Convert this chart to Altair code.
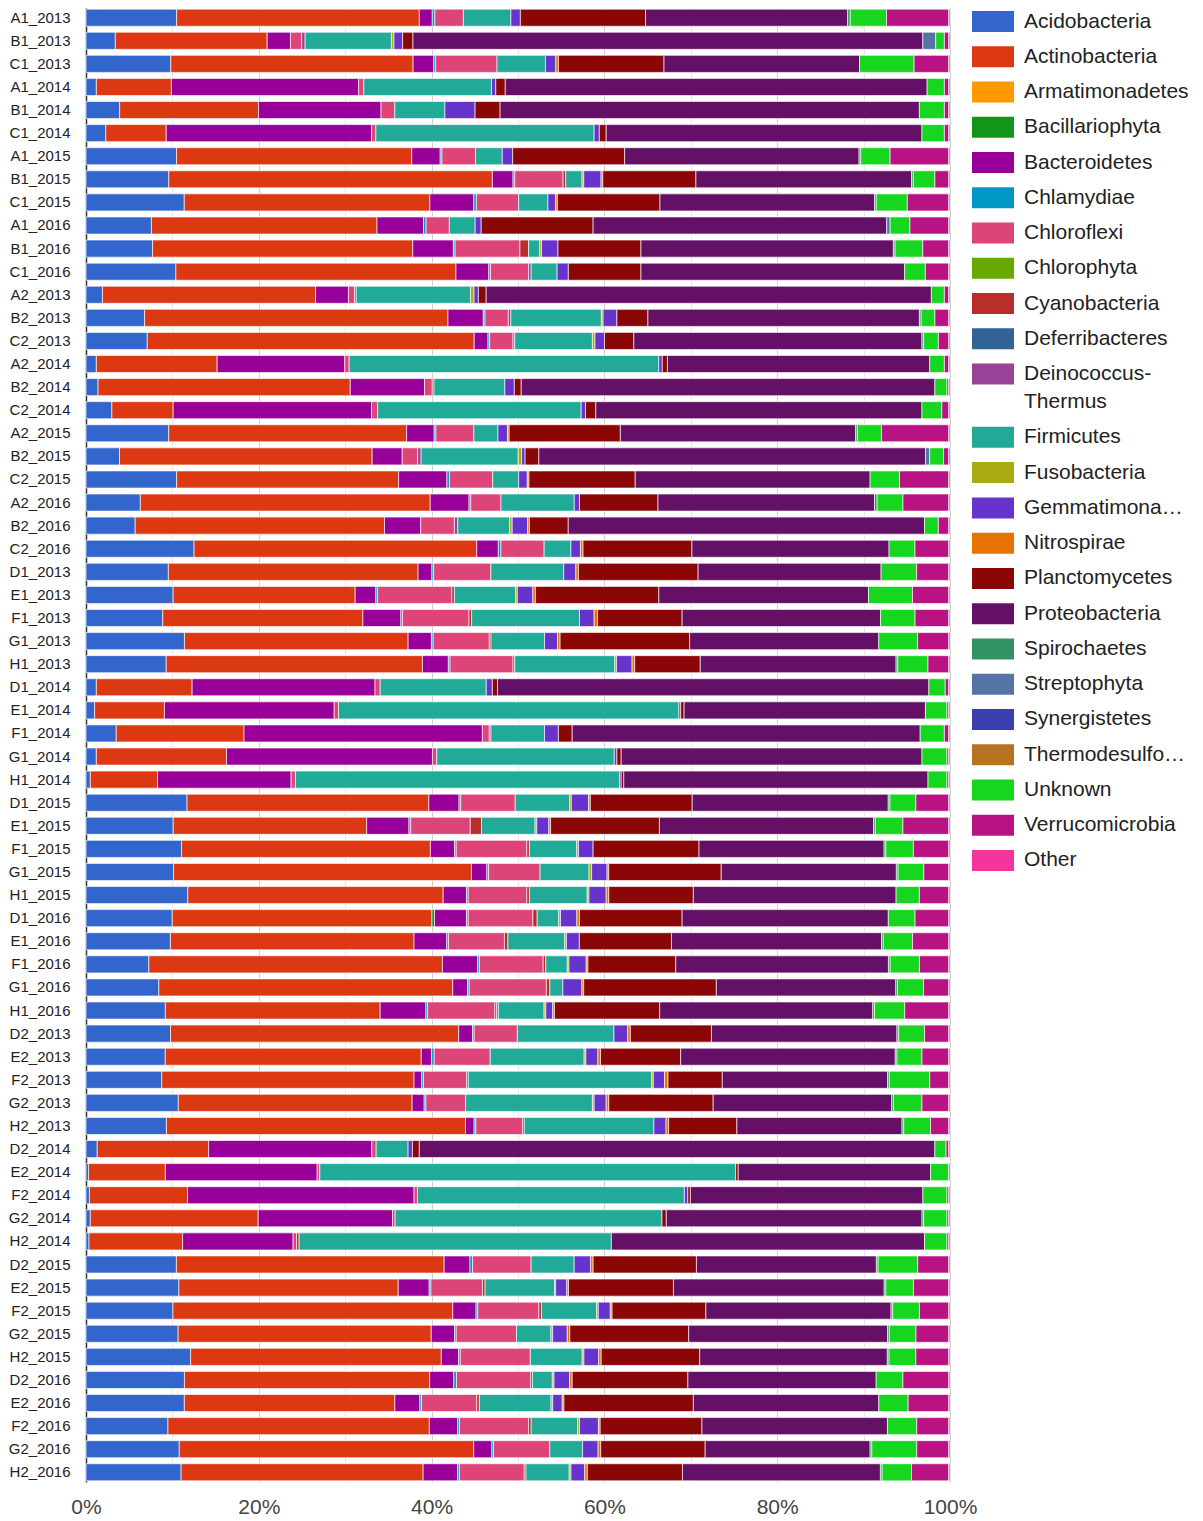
import altair as alt
import pandas as pd

rows = [
    "A1_2013", "B1_2013", "C1_2013", "A1_2014", "B1_2014", "C1_2014",
    "A1_2015", "B1_2015", "C1_2015", "A1_2016", "B1_2016", "C1_2016",
    "A2_2013", "B2_2013", "C2_2013", "A2_2014", "B2_2014", "C2_2014",
    "A2_2015", "B2_2015", "C2_2015", "A2_2016", "B2_2016", "C2_2016",
    "D1_2013", "E1_2013", "F1_2013", "G1_2013", "H1_2013",
    "D1_2014", "E1_2014", "F1_2014", "G1_2014", "H1_2014",
    "D1_2015", "E1_2015", "F1_2015", "G1_2015", "H1_2015",
    "D1_2016", "E1_2016", "F1_2016", "G1_2016", "H1_2016",
    "D2_2013", "E2_2013", "F2_2013", "G2_2013", "H2_2013",
    "D2_2014", "E2_2014", "F2_2014", "G2_2014", "H2_2014",
    "D2_2015", "E2_2015", "F2_2015", "G2_2015", "H2_2015",
    "D2_2016", "E2_2016", "F2_2016", "G2_2016", "H2_2016",
]

cats = [
    "Acidobacteria", "Actinobacteria", "Armatimonadetes", "Bacillariophyta",
    "Bacteroidetes", "Chlamydiae", "Chloroflexi", "Chlorophyta", "Cyanobacteria",
    "Deferribacteres", "Deinococcus-Thermus", "Firmicutes", "Fusobacteria",
    "Gemmatimonadetes", "Nitrospirae", "Planctomycetes", "Proteobacteria",
    "Spirochaetes", "Streptophyta", "Synergistetes", "Thermodesulfobacteria",
    "Unknown", "Verrucomicrobia", "Other",
]

colors = [
    "#3366cc", "#dc3912", "#ff9900", "#109618", "#990099", "#0099c6", "#dd4477",
    "#66aa00", "#b82e2e", "#316395", "#994499", "#22aa99", "#aaaa11", "#6633cc",
    "#e67300", "#8b0707", "#651067", "#329262", "#5574a6", "#3b3eac", "#b77322",
    "#16d620", "#b91383", "#f4359e",
]

acidobacteria = [10.5, 3.4, 9.8, 1.2, 3.9, 2.3, 10.5, 9.6, 11.4, 7.6, 7.7, 10.4,
                 1.9, 6.8, 7.1, 1.2, 1.4, 3.0, 9.6, 3.9, 10.5, 6.3, 5.7, 12.5,
                 9.5, 10.1, 8.9, 11.4, 9.3,
                 1.2, 1.0, 3.5, 1.2, 0.5,
                 11.7, 10.1, 11.1, 10.2, 11.8,
                 10.0, 9.8, 7.3, 8.4, 9.2,
                 9.8, 9.2, 8.8, 10.7, 9.3,
                 1.3, 0.3, 0.4, 0.5, 0.35,
                 10.5, 10.8, 10.1, 10.7, 12.1,
                 11.4, 11.4, 9.5, 10.8, 11.0]
actinobacteria = [28.1, 17.6, 28.0, 8.7, 16.1, 7.0, 27.3, 37.5, 28.5, 26.2, 30.1, 32.4,
                  24.6, 35.2, 37.9, 14.0, 29.2, 7.1, 27.6, 29.4, 25.7, 33.6, 28.9, 32.7,
                  28.8, 21.1, 23.2, 25.9, 29.7,
                  11.1, 8.1, 14.8, 15.1, 7.8,
                  28.0, 22.4, 28.9, 34.7, 29.6,
                  30.1, 28.3, 34.1, 33.9, 24.9,
                  33.4, 29.7, 29.3, 27.1, 34.6,
                  12.9, 8.9, 11.4, 19.5, 10.85,
                  31.1, 25.5, 32.5, 29.4, 29.0,
                  28.4, 24.4, 30.3, 34.1, 28.0]
armatimonadetes = [0.0] * 64
bacillariophyta = [0, 0, 0, 0, 0, 0, 0, 0, 0, 0, 0, 0,
                   0, 0, 0, 0, 0, 0, 0, 0, 0, 0, 0, 0,
                   0, 0, 0, 0, 0,
                   0, 0, 0, 0, 0,
                   0, 0, 0, 0, 0,
                   0.3, 0, 0, 0, 0,
                   0, 0, 0, 0, 0,
                   0, 0, 0, 0, 0,
                   0, 0, 0, 0, 0,
                   0, 0, 0, 0, 0]
bacteroidetes = [1.5, 2.7, 2.4, 21.7, 14.2, 23.8, 3.3, 2.4, 5.1, 5.4, 4.7, 3.8,
                 3.8, 4.1, 1.6, 14.8, 8.6, 23.0, 3.2, 3.5, 5.6, 4.5, 4.2, 2.5,
                 1.6, 2.4, 4.4, 2.7, 3.0,
                 21.2, 19.7, 27.6, 23.9, 15.5,
                 3.5, 4.9, 2.8, 1.8, 2.7,
                 3.7, 3.8, 4.1, 1.7, 5.3,
                 1.6, 1.2, 0.9, 1.4, 1.0,
                 18.9, 17.6, 26.3, 15.6, 12.8,
                 3.0, 3.6, 2.7, 2.7, 2.0,
                 2.8, 2.9, 3.3, 2.1, 4.0]
chlamydiae = [0.3, 0, 0.2, 0, 0, 0, 0.2, 0.2, 0.3, 0.3, 0.2, 0.2,
              0, 0.2, 0.2, 0, 0, 0, 0.2, 0, 0.3, 0.2, 0, 0.3,
              0.2, 0.2, 0.2, 0.2, 0.2,
              0, 0, 0, 0, 0,
              0.2, 0.2, 0.2, 0.2, 0.2,
              0.2, 0.2, 0.2, 0.2, 0.2,
              0.2, 0.3, 0.2, 0.2, 0.2,
              0, 0, 0, 0, 0,
              0.3, 0.2, 0.2, 0.2, 0.2,
              0.3, 0.2, 0.2, 0.2, 0.2]
chloroflexi = [3.3, 1.3, 7.1, 0.6, 1.6, 0.5, 3.9, 5.6, 4.9, 2.7, 7.5, 4.4,
               0.7, 2.7, 2.7, 0.5, 0.9, 0.7, 4.4, 1.8, 5.0, 3.5, 3.9, 5.0,
               6.6, 8.6, 7.7, 6.5, 7.3,
               0.6, 0.5, 0.8, 0.5, 0.5,
               6.3, 6.9, 8.2, 6.0, 6.8,
               7.5, 6.5, 7.4, 8.9, 7.8,
               5.0, 6.5, 5.0, 4.6, 5.4,
               0.5, 0.3, 0.4, 0.3, 0.4,
               6.8, 6.0, 7.1, 7.0, 8.1,
               8.6, 6.4, 8.0, 6.5, 7.5]
chlorophyta = [0.0] * 64
cyanobacteria = [0, 0, 0, 0, 0, 0, 0, 0.3, 0, 0, 1.0, 0,
                 0, 0, 0, 0, 0.2, 0, 0, 0, 0, 0, 0, 0,
                 0, 0.3, 0.3, 0.2, 0.2,
                 0, 0, 0, 0, 0,
                 0, 1.3, 0.3, 0, 0.3,
                 0.5, 0.4, 0.3, 0.4, 0.2,
                 0, 0, 0, 0, 0.2,
                 0, 0, 0, 0, 0.3,
                 0, 0.3, 0.3, 0, 0,
                 0.2, 0.3, 0.3, 0, 0.2]
deferribacteres = [0.0] * 64
deinococcus = [0, 0.4, 0, 0, 0, 0, 0, 0, 0, 0, 0, 0.3,
               0.2, 0.3, 0.2, 0, 0, 0, 0, 0.4, 0, 0, 0.4, 0,
               0, 0, 0, 0, 0,
               0, 0, 0.2, 0, 0,
               0, 0, 0, 0, 0,
               0, 0, 0, 0, 0.2,
               0, 0, 0.2, 0, 0,
               0, 0, 0, 0, 0,
               0, 0, 0, 0, 0,
               0, 0, 0, 0, 0]
firmicutes = [5.5, 10.0, 5.6, 14.8, 5.8, 25.3, 3.1, 1.9, 3.4, 3.0, 1.3, 3.0,
              13.2, 10.5, 9.0, 35.9, 8.2, 23.6, 2.8, 11.3, 3.0, 8.5, 6.0, 3.1,
              8.4, 7.1, 12.5, 6.2, 11.6,
              12.3, 39.5, 6.2, 20.6, 37.6,
              6.3, 6.2, 5.5, 5.7, 6.7,
              2.5, 6.6, 2.5, 1.5, 5.3,
              11.2, 10.9, 21.3, 14.7, 15.0,
              3.7, 48.2, 31.0, 31.0, 36.2,
              5.0, 8.1, 6.4, 4.0, 6.0,
              2.3, 8.3, 5.4, 3.8, 5.0]
fusobacteria = [0, 0.3, 0, 0, 0, 0, 0, 0.2, 0, 0, 0.2, 0,
                0.4, 0.2, 0.3, 0, 0, 0, 0, 0.4, 0, 0, 0.3, 0,
                0, 0.2, 0, 0, 0.2,
                0, 0, 0, 0, 0,
                0.2, 0.2, 0.2, 0.3, 0.2,
                0.2, 0.2, 0.2, 0, 0.2,
                0, 0.2, 0.2, 0.2, 0,
                0, 0, 0, 0, 0,
                0, 0.1, 0.2, 0.2, 0.2,
                0.2, 0.2, 0.2, 0, 0.2]
gemmatimonadetes = [1.1, 1.0, 1.2, 0.5, 3.5, 0.6, 1.2, 2.0, 0.9, 0.7, 1.9, 1.3,
                    0.5, 1.6, 1.1, 0.4, 1.1, 0.5, 1.1, 0.4, 1.0, 0.6, 1.8, 1.1,
                    1.4, 1.8, 1.7, 1.5, 1.8,
                    0.7, 0.2, 1.6, 0.3, 0.2,
                    2.0, 1.4, 1.7, 1.8, 2.0,
                    1.9, 1.5, 2.0, 2.2, 0.8,
                    1.6, 1.4, 1.3, 1.4, 1.4,
                    0.5, 0, 0.4, 0, 0,
                    1.9, 1.3, 1.4, 1.7, 1.7,
                    1.8, 1.1, 2.2, 1.8, 1.6]
nitrospirae = [0, 0, 0.3, 0, 0, 0, 0, 0.2, 0.2, 0, 0, 0,
               0, 0, 0, 0, 0, 0, 0.2, 0, 0.2, 0, 0.2, 0.3,
               0.3, 0.3, 0.4, 0.3, 0.3,
               0, 0, 0, 0, 0,
               0.2, 0.2, 0, 0.2, 0.3,
               0.3, 0, 0.2, 0.2, 0.2,
               0.3, 0.3, 0.4, 0.3, 0.3,
               0, 0, 0, 0, 0,
               0.3, 0.2, 0.2, 0.3, 0.3,
               0.3, 0.2, 0.2, 0.3, 0.3]
planctomycetes = [14.5, 1.2, 12.2, 1.1, 2.9, 0.8, 13.0, 10.8, 11.9, 13.0, 9.6, 8.4,
                  0.9, 3.6, 3.4, 0.6, 0.8, 1.2, 12.9, 1.6, 12.3, 9.1, 4.5, 12.6,
                  13.8, 14.3, 9.8, 15.0, 7.6,
                  0.6, 0.4, 1.6, 0.5, 0.3,
                  11.8, 12.6, 12.3, 13.1, 9.8,
                  11.9, 10.7, 10.2, 15.3, 12.2,
                  9.4, 9.3, 6.3, 12.1, 7.9,
                  0.8, 0.3, 0.3, 0.5, 0,
                  12.0, 12.2, 10.9, 13.8, 11.4,
                  13.4, 15.0, 11.8, 12.1, 11.0]
proteobacteria = [23.4, 59.1, 22.6, 48.9, 48.6, 36.6, 27.2, 25.0, 24.9, 34.1, 29.2, 30.5,
                  51.4, 31.5, 33.4, 30.4, 47.9, 37.8, 27.3, 45.0, 27.2, 25.1, 41.3, 22.8,
                  21.1, 24.3, 23.0, 21.9, 22.7,
                  50.0, 28.0, 40.3, 34.9, 35.3,
                  22.7, 24.8, 21.5, 20.4, 23.5,
                  23.9, 24.4, 24.7, 20.7, 24.7,
                  21.5, 24.9, 19.2, 20.7, 19.1,
                  59.7, 22.3, 27.0, 29.7, 36.3,
                  20.9, 24.5, 21.5, 23.1, 21.7,
                  21.8, 21.5, 21.5, 19.1, 22.9]
spirochaetes = [0.3, 0, 0, 0, 0, 0, 0.2, 0.2, 0.2, 0, 0.2, 0,
                0, 0.2, 0, 0, 0, 0, 0.2, 0, 0, 0.3, 0, 0,
                0, 0, 0, 0, 0.2,
                0, 0, 0, 0, 0,
                0.2, 0.2, 0.2, 0.2, 0,
                0, 0.2, 0.2, 0.2, 0.2,
                0.2, 0.2, 0.2, 0.2, 0.2,
                0, 0, 0, 0.2, 0,
                0.2, 0.2, 0.2, 0.2, 0.2,
                0, 0, 0, 0.2, 0.2]
streptophyta = [0, 1.5, 0, 0, 0, 0, 0, 0, 0, 0.4, 0, 0,
                0, 0, 0.2, 0, 0, 0, 0, 0.5, 0, 0, 0, 0,
                0, 0, 0, 0, 0,
                0, 0, 0, 0, 0,
                0, 0, 0, 0, 0,
                0, 0, 0, 0, 0,
                0, 0, 0, 0, 0,
                0, 0, 0, 0, 0,
                0, 0, 0, 0, 0,
                0, 0, 0, 0, 0]
synergistetes = [0.0] * 64
thermodesulfobacteria = [0.0] * 64
unknown = [4.2, 1.0, 6.3, 2.0, 2.9, 2.6, 3.4, 2.5, 3.6, 2.3, 3.2, 2.4,
           1.5, 1.6, 1.7, 1.7, 1.4, 2.3, 2.8, 1.6, 3.4, 3.0, 1.6, 3.0,
           4.1, 5.1, 4.0, 4.5, 3.5,
           1.9, 2.5, 2.8, 2.9, 2.2,
           3.0, 3.2, 3.2, 3.0, 2.7,
           3.1, 3.4, 3.4, 3.0, 3.5,
           3.0, 2.9, 4.7, 3.3, 3.1,
           1.3, 2.1, 2.8, 2.7, 2.6,
           4.6, 3.2, 3.1, 3.1, 3.1,
           3.1, 3.4, 3.4, 5.2, 3.4]
verrucomicrobia = [7.2, 0.5, 4.0, 0.5, 0.5, 0.5, 6.8, 1.6, 4.8, 4.5, 3.0, 2.7,
                   0.5, 1.6, 1.2, 0.5, 0.2, 0.8, 7.8, 0.6, 5.7, 5.3, 1.2, 3.9,
                   3.7, 4.2, 3.9, 3.6, 2.4,
                   0.4, 0.2, 0.5, 0.2, 0.2,
                   3.8, 5.3, 4.1, 2.9, 3.4,
                   3.9, 4.2, 3.4, 2.9, 5.1,
                   2.8, 3.1, 2.2, 3.1, 2.1,
                   0.3, 0, 0.2, 0.2, 0.2,
                   3.6, 4.1, 3.4, 3.8, 3.8,
                   5.3, 4.7, 3.7, 3.7, 4.3]
other = [0.15] * 64

series = [
    acidobacteria, actinobacteria, armatimonadetes, bacillariophyta, bacteroidetes,
    chlamydiae, chloroflexi, chlorophyta, cyanobacteria, deferribacteres, deinococcus,
    firmicutes, fusobacteria, gemmatimonadetes, nitrospirae, planctomycetes,
    proteobacteria, spirochaetes, streptophyta, synergistetes, thermodesulfobacteria,
    unknown, verrucomicrobia, other,
]

records = []
for ci, (cat, vals) in enumerate(zip(cats, series)):
    for ri, row in enumerate(rows):
        v = vals[ri] if ri < len(vals) else 0
        if v > 0:
            records.append({"sample": row, "phylum": cat, "idx": ci, "value": v})
df = pd.DataFrame(records)

FONT = "Liberation Sans"

label_expr = (
    "datum.label == 'Deinococcus-Thermus' ? ['Deinococcus-', 'Thermus'] : "
    "datum.label == 'Gemmatimonadetes' ? 'Gemmatimona\u2026' : "
    "datum.label == 'Thermodesulfobacteria' ? 'Thermodesulfo\u2026' : datum.label"
)

chart = (
    alt.Chart(df)
    .mark_bar(stroke="#ffffff", strokeWidth=0.8, strokeOpacity=0.8)
    .encode(
        x=alt.X(
            "value:Q",
            stack="normalize",
            scale=alt.Scale(domain=[0, 1], nice=False),
            axis=alt.Axis(
                values=[0, 0.1, 0.2, 0.3, 0.4, 0.5, 0.6, 0.7, 0.8, 0.9, 1.0],
                format="%",
                labelExpr="round(datum.value*10) % 2 == 0 ? datum.label : ''",
                labelFlush=False,
                grid=True,
                gridColor={
                    "condition": {"test": "round(datum.value*10) % 2 == 0", "value": "#cfcfcf"},
                    "value": "#e8e8e8",
                },
                domain=False,
                ticks=False,
                labelFont=FONT,
                labelFontSize=21,
                labelColor="#444444",
                labelPadding=14,
                title=None,
            ),
        ),
        y=alt.Y(
            "sample:N",
            sort=rows,
            scale=alt.Scale(paddingInner=0.26, paddingOuter=0.05),
            axis=alt.Axis(
                title=None,
                ticks=False,
                domain=True,
                domainColor="#333333",
                domainWidth=1.5,
                labelFont=FONT,
                labelFontSize=15,
                labelColor="#222222",
                labelPadding=16,
                grid=False,
            ),
        ),
        color=alt.Color(
            "phylum:N",
            scale=alt.Scale(domain=cats, range=colors),
            legend=alt.Legend(
                title=None,
                orient="none",
                legendX=896.5,
                legendY=3,
                padding=0,
                symbolType="M-2,-1H2V1H-2Z",
                symbolSize=441,
                symbolStrokeWidth=0,
                symbolOpacity=1,
                labelFont=FONT,
                labelFontSize=21,
                labelColor="#222222",
                labelOffset=20.5,
                labelLimit=400,
                labelExpr=label_expr,
                rowPadding=13.26,
            ),
        ),
        order=alt.Order("idx:Q", sort="ascending"),
    )
    .properties(
        width=864,
        height=1474,
        autosize=alt.AutoSizeParams(type="none"),
        padding={"left": 78, "top": 0, "right": 240, "bottom": 36},
        background="white",
    )
    .configure(style={"guide-label": {"lineHeight": 28}})
    .configure_view(stroke=None)
)

chart.save("out.html", embed_options={"renderer": "svg", "actions": False})
